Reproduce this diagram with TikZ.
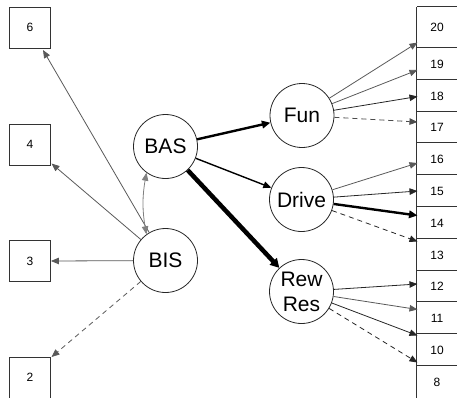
\documentclass[tikz,border=0pt]{standalone}
\usepackage{fontspec}
\setmainfont{Liberation Sans}
\usetikzlibrary{arrows.meta,calc}
\begin{document}
\begin{tikzpicture}[x=1pt,y=-1pt,
  circ/.style={circle,draw=black!85,line width=0.8pt,minimum size=64pt,inner sep=0pt,font=\fontsize{21}{25}\selectfont},
  sq/.style={rectangle,draw=black!80,line width=0.8pt,minimum size=41pt,inner sep=0pt,font=\fontsize{12}{14}\selectfont},
  cell/.style={rectangle,minimum width=40pt,inner sep=0pt,font=\fontsize{12}{14}\selectfont},
  colline/.style={draw=black!80,line width=0.8pt},
  tipped/.style={-{Triangle[length=8pt,width=6.5pt]}},
  darkarrow/.style={tipped,line width=0.8pt,draw=black!85},
  grayarrow/.style={tipped,line width=0.8pt,draw=black!65},
  dasharrow/.style={tipped,line width=0.8pt,draw=black!70,dash pattern=on 5pt off 4pt},
  midarrow/.style={tipped,line width=1.4pt,draw=black},
  boldarrow/.style={-{Triangle[length=8.5pt,width=7.5pt]},line width=2.4pt,draw=black},
  heavyarrow/.style={-{Triangle[length=9pt,width=9.5pt]},line width=4.5pt,draw=black},
]
\useasboundingbox (0,0) rectangle (457,397);

% left boxes
\node[sq] (b6) at (30,27.5) {6};
\node[sq] (b4) at (30,144.5) {4};
\node[sq] (b3) at (30,261) {3};
\node[sq] (b2) at (30,377.5) {2};

% circles
\node[circ] (bas) at (165.5,146.5) {BAS};
\node[circ] (bis) at (165.5,260.5) {BIS};
\node[circ] (fun) at (302,115.5) {Fun};
\node[circ] (drive) at (301.5,199.5) {Drive};
\node[circ,align=center,font=\fontsize{21}{25}\selectfont] (rew) at (301.5,291.5) {Rew\\Res};

% right column cells
\node[cell,minimum height=41pt] (c20) at (437,27.5) {20};
\node[cell,minimum height=32pt] (c19) at (437,64) {19};
\node[cell,minimum height=32pt] (c18) at (437,96) {18};
\node[cell,minimum height=31pt] (c17) at (437,127.5) {17};
\node[cell,minimum height=32pt] (c16) at (437,159) {16};
\node[cell,minimum height=32pt] (c15) at (437,191) {15};
\node[cell,minimum height=32pt] (c14) at (437,223) {14};
\node[cell,minimum height=32pt] (c13) at (437,255) {13};
\node[cell,minimum height=31pt] (c12) at (437,286.5) {12};
\node[cell,minimum height=32pt] (c11) at (437,318) {11};
\node[cell,minimum height=32pt] (c10) at (437,350) {10};
\node[cell,minimum height=32pt] (c8) at (437,382) {8};
\draw[colline] (c20.north west) -- (c8.south west);
\foreach \c in {c20,c19,c18,c17,c16,c15,c14,c13,c12,c11,c10,c8}
  \draw[colline] (\c.north west) -- (\c.north east);

% arrow end points on the column
\coordinate (e20) at (417.5,42.5);
\coordinate (e19) at (417.5,70);
\coordinate (e18) at (417.5,96.5);
\coordinate (e17) at (417.5,122);
\coordinate (e16) at (417.5,163);
\coordinate (e15) at (417.5,191);
\coordinate (e14) at (417.5,215.5);
\coordinate (e13) at (417.5,241.5);
\coordinate (e12) at (417.5,284);
\coordinate (e11) at (417.5,309.5);
\coordinate (e10) at (417.5,335.5);
\coordinate (e8) at (417.5,362.5);

% left arrow end points
\coordinate (p6) at (43,50);
\coordinate (p4) at (51.5,163.5);
\coordinate (p2) at (51.5,357);

% BIS arrows
\draw[grayarrow] (bis) -- (p6);
\draw[grayarrow] (bis) -- (p4);
\draw[grayarrow] (bis) -- (b3.east);
\draw[dasharrow,draw=black!65] (bis) -- (p2);
\draw[line width=0.8pt,draw=black!50,{Triangle[length=8pt,width=6.5pt]}-{Triangle[length=8pt,width=6.5pt]}]
  (bas.234) to[bend right=10] (bis.126);

% BAS arrows
\draw[boldarrow] (bas) -- (fun);
\draw[midarrow] (bas) -- (drive);
\draw[heavyarrow] (bas) -- (rew);

% Fun arrows
\draw[grayarrow] (fun) -- (e20);
\draw[grayarrow] (fun) -- (e19);
\draw[darkarrow] (fun) -- (e18);
\draw[dasharrow] (fun) -- (e17);

% Drive arrows
\draw[grayarrow] (drive) -- (e16);
\draw[darkarrow] (drive) -- (e15);
\draw[boldarrow] (drive) -- (e14);
\draw[dasharrow,draw=black!85] (drive) -- (e13);

% Rew Res arrows
\draw[darkarrow] (rew) -- (e12);
\draw[grayarrow] (rew) -- (e11);
\draw[darkarrow] (rew) -- (e10);
\draw[dasharrow,draw=black!85] (rew) -- (e8);
\end{tikzpicture}
\end{document}
